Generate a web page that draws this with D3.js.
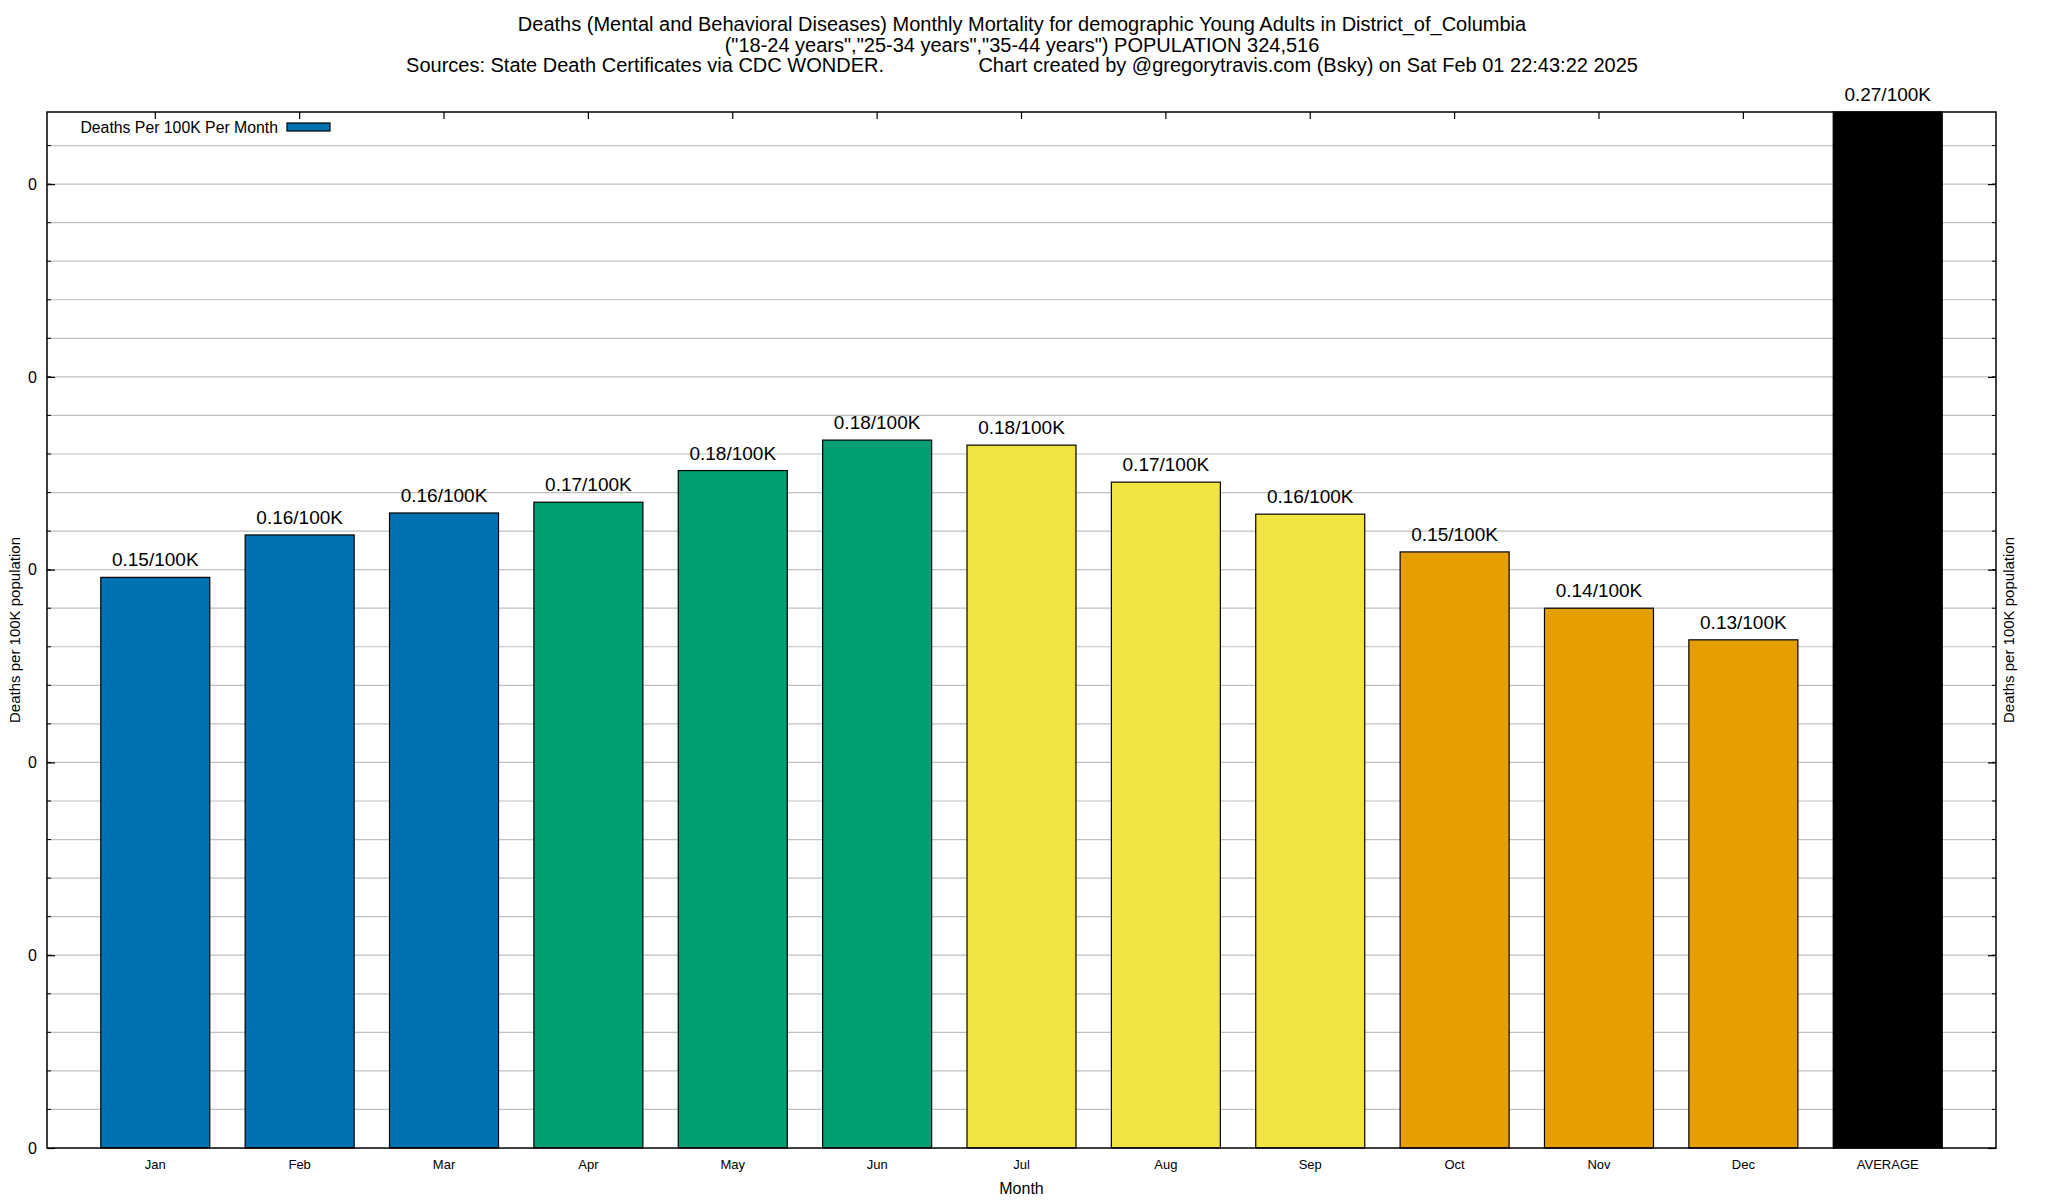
<!DOCTYPE html>
<html>
<head>
<meta charset="utf-8">
<script src="https://cdn.jsdelivr.net/npm/d3@7.9.0/dist/d3.min.js"></script>
<style>
  body { margin: 0; background: #fff; }
  svg { display: block; font-family: "Liberation Sans", Arial, Helvetica, sans-serif; }
  .title { white-space: pre; }
</style>
</head>
<body>
<svg width="2048" height="1200"></svg>
<script>
// data
const months = ['Jan', 'Feb', 'Mar', 'Apr', 'May', 'Jun', 'Jul', 'Aug', 'Sep', 'Oct', 'Nov', 'Dec', 'AVERAGE'];
const rates = [0.148, 0.159, 0.1647, 0.1675, 0.1757, 0.1836, 0.1823, 0.1727, 0.1644, 0.1546, 0.140, 0.1318, 0.2687];
const barColors = ['#0072b2', '#0072b2', '#0072b2', '#009e73', '#009e73', '#009e73',
  '#f0e442', '#f0e442', '#f0e442', '#e69f00', '#e69f00', '#e69f00', '#000000'];
const titleLines = [
  'Deaths (Mental and Behavioral Diseases) Monthly Mortality for demographic Young Adults in District_of_Columbia',
  '("18-24 years","25-34 years","35-44 years") POPULATION 324,516',
  'Sources: State Death Certificates via CDC WONDER.                 Chart created by @gregorytravis.com (Bsky) on Sat Feb 01 22:43:22 2025'
];
const legendLabel = 'Deaths Per 100K Per Month';
const yLabel = 'Deaths per 100K population';
const xLabel = 'Month';

const svg = d3.select('svg');
const plotLeft = 47, plotRight = 1996, plotTop = 112, plotBottom = 1148;

let x = d3.scaleBand().domain(months).range([plotLeft, plotRight]).paddingInner(0.245).paddingOuter(0.3725);
let y = d3.scaleLinear().domain([0, d3.max(rates)]).range([plotBottom, plotTop]);

const minorTicks = d3.range(0, d3.max(rates), 0.01);
const majorTicks = d3.range(0, d3.max(rates), 0.05);

// ── 网格 ──
svg.append('g')
  .selectAll('line')
  .data(minorTicks.filter((t) => t > 0))
  .join('line')
  .attr('x1', plotLeft).attr('x2', plotRight)
  .attr('y1', (d) => y(d)).attr('y2', (d) => y(d))
  .attr('stroke', '#c0c0c0')
  .attr('stroke-width', 1.2);

// ── 柱子 ──
svg.append('g')
  .selectAll('rect')
  .data(rates)
  .join('rect')
  .attr('x', (d, i) => x(months[i]))
  .attr('y', (d) => y(d))
  .attr('width', x.bandwidth())
  .attr('height', (d) => plotBottom - y(d))
  .attr('fill', (d, i) => barColors[i])
  .attr('stroke', '#000')
  .attr('stroke-width', 1.2);

// 柱顶标签
svg.append('g')
  .selectAll('text')
  .data(rates)
  .join('text')
  .attr('x', (d, i) => x(months[i]) + x.bandwidth() / 2)
  .attr('y', (d) => y(d) - 11)
  .attr('text-anchor', 'middle')
  .attr('font-size', 19)
  .text((d) => `${d3.format('.2f')(d)}/100K`);

// ── 坐标轴 ──
let yAxisL = d3.axisLeft(y).tickValues(majorTicks).tickFormat(d3.format('.0f')).tickSizeInner(-8).tickPadding(10);
let yAxisR = d3.axisRight(y).tickValues(majorTicks).tickFormat('').tickSizeInner(-8);
let xAxisB = d3.axisBottom(x).tickSize(0).tickPadding(12);
let xAxisT = d3.axisTop(x).tickFormat('').tickSizeInner(-7);

function styleAxis(g, fs) {
  g.select('.domain').remove();
  g.selectAll('line').attr('stroke', '#000').attr('stroke-width', 1.2);
  g.selectAll('text').attr('font-size', fs).attr('fill', '#000')
    .attr('font-family', '"Liberation Sans", Arial, sans-serif');
}

svg.append('g').attr('transform', `translate(${plotLeft},0)`).call(yAxisL).call(styleAxis, 16);
svg.append('g').attr('transform', `translate(${plotRight},0)`).call(yAxisR).call(styleAxis, 16);
svg.append('g').attr('transform', `translate(0,${plotBottom})`).call(xAxisB).call(styleAxis, 13);
svg.append('g').attr('transform', `translate(0,${plotTop})`).call(xAxisT).call(styleAxis, 13);

// minor ticks on both sides
[plotLeft, plotRight].forEach((px, side) => {
  svg.append('g')
    .selectAll('line')
    .data(minorTicks.filter((t) => t > 0))
    .join('line')
    .attr('x1', px).attr('x2', side === 0 ? px + 4 : px - 4)
    .attr('y1', (d) => y(d)).attr('y2', (d) => y(d))
    .attr('stroke', '#000');
});

// frame
svg.append('rect')
  .attr('x', plotLeft).attr('y', plotTop)
  .attr('width', plotRight - plotLeft).attr('height', plotBottom - plotTop)
  .attr('fill', 'none').attr('stroke', '#000').attr('stroke-width', 1.5);

// ── 标题 ──
svg.append('g')
  .selectAll('text')
  .data(titleLines)
  .join('text')
  .attr('class', 'title')
  .attr('x', 1022)
  .attr('y', (d, i) => 31 + i * 20.5)
  .attr('text-anchor', 'middle')
  .attr('font-size', 20)
  .text((d) => d);

// axis titles
svg.append('text')
  .attr('x', (plotLeft + plotRight) / 2).attr('y', 1194)
  .attr('text-anchor', 'middle').attr('font-size', 16)
  .text(xLabel);

svg.append('text')
  .attr('transform', `translate(20,${(plotTop + plotBottom) / 2}) rotate(-90)`)
  .attr('text-anchor', 'middle').attr('font-size', 15)
  .text(yLabel);

svg.append('text')
  .attr('transform', `translate(2014,${(plotTop + plotBottom) / 2}) rotate(-90)`)
  .attr('text-anchor', 'middle').attr('font-size', 15)
  .text(yLabel);

// ── 图例 ──
let legend = svg.append('g');
legend.append('text')
  .attr('x', 278).attr('y', 133)
  .attr('text-anchor', 'end').attr('font-size', 15.8)
  .text(legendLabel);
legend.append('rect')
  .attr('x', 287).attr('y', 123)
  .attr('width', 43).attr('height', 8)
  .attr('fill', barColors[0]).attr('stroke', '#000').attr('stroke-width', 1.2);
</script>
</body>
</html>
